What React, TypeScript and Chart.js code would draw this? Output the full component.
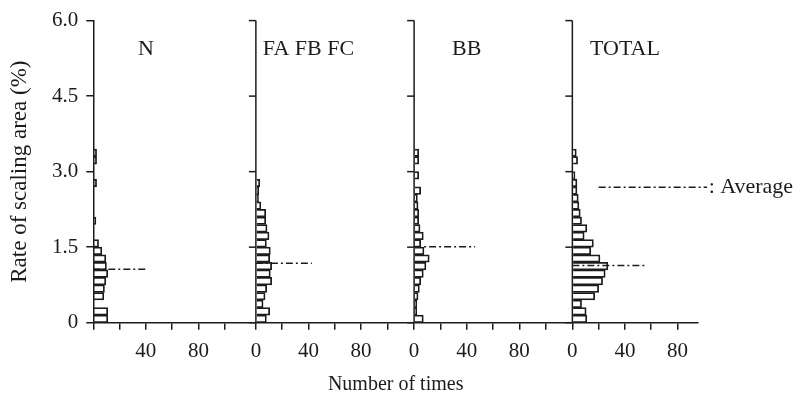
import React, { useEffect, useRef } from 'react';
import { Chart, registerables } from 'chart.js';

Chart.register(...registerables);

// Rate of scaling area (%) - histogram bin centres (bin width 0.15 %)
const RATE_BINS = [0.075, 0.225, 0.375, 0.525, 0.675, 0.825, 0.975, 1.125, 1.275, 1.425, 1.575, 1.725, 1.875, 2.025, 2.175, 2.325, 2.475, 2.625, 2.775, 2.925, 3.075, 3.225, 3.375];
// Number of times per bin, one array per panel
const N_COUNTS = [11, 11, 0, 8, 8.5, 9.5, 11, 10, 9.5, 6.5, 4, 0, 0, 2, 0, 0, 0, 0, 2.5, 0, 0, 2.5, 2.5];
const FA_FB_FC_COUNTS = [8, 10.5, 5.5, 7, 8.2, 12, 11, 12, 10.5, 11, 8, 10, 8.5, 7.5, 7.5, 3.8, 2, 2.2, 3, 0, 0, 0, 0];
const BB_COUNTS = [7, 2, 2, 3, 4, 5, 7, 9, 11.5, 7.5, 5, 7, 4.5, 3.5, 3.5, 3, 2.5, 5, 0, 3.5, 0, 3.5, 3.5];
const TOTAL_COUNTS = [11, 10.5, 7, 17, 20, 23, 25, 27, 21, 14, 16, 9, 11, 7, 6, 5, 4.5, 3.5, 3.5, 2, 0, 4, 3];

const PANEL_NAMES = ['N', 'FA FB FC', 'BB', 'TOTAL'];
const PANEL_COUNTS = [N_COUNTS, FA_FB_FC_COUNTS, BB_COUNTS, TOTAL_COUNTS];
const AVERAGE_RATES = [1.06, 1.18, 1.51, 1.135];
const AVERAGE_LINE_ENDS = [41, 42.6, 46.4, 55];
const PANEL_X_MAX = [123.7, 120.4, 120.4, 95.6];
const X_TICKS = [0, 20, 40, 60, 80, 100];
const X_LABELED = [[40, 80], [0, 40, 80], [0, 40, 80], [0, 40, 80]];
const Y_TICKS = [0, 1.5, 3.0, 4.5, 6.0];
const LEGEND_TEXT = ': Average';

const FONT_FAMILY = '"Liberation Serif", "Times New Roman", serif';
const INK = '#1c1c1c';
const DASH = [7, 3, 2, 3];

const panelDecor = {
  id: 'panelDecor',
  afterDraw(chart: any) {
    const ctx = chart.ctx as CanvasRenderingContext2D;
    const y = chart.scales.y;
    ctx.save();
    ctx.strokeStyle = INK;
    ctx.lineWidth = 1.5;
    for (let k = 1; k < 4; k++) {
      const xs = chart.scales['x' + k];
      const px = xs.getPixelForValue(0);
      ctx.beginPath();
      ctx.moveTo(px, y.getPixelForValue(6));
      ctx.lineTo(px, y.getPixelForValue(0));
      ctx.stroke();
      for (const t of Y_TICKS) {
        const py = y.getPixelForValue(t);
        ctx.beginPath();
        ctx.moveTo(px - 7, py);
        ctx.lineTo(px, py);
        ctx.stroke();
      }
    }
    ctx.fillStyle = INK;
    ctx.font = `22px ${FONT_FAMILY}`;
    ctx.textAlign = 'center';
    ctx.textBaseline = 'middle';
    for (let k = 0; k < 4; k++) {
      const xs = chart.scales['x' + k];
      ctx.fillText(PANEL_NAMES[k], xs.getPixelForValue(40), y.getPixelForValue(5.44));
    }
    // legend
    const x3 = chart.scales.x3;
    const ly = y.getPixelForValue(2.69);
    ctx.setLineDash(DASH);
    ctx.beginPath();
    ctx.moveTo(x3.getPixelForValue(20), ly);
    ctx.lineTo(x3.getPixelForValue(102.5), ly);
    ctx.stroke();
    ctx.setLineDash([]);
    ctx.textAlign = 'left';
    ctx.fillText(LEGEND_TEXT, x3.getPixelForValue(103.7), ly);
    ctx.restore();
  },
};

function buildConfig(): any {
  const datasets: any[] = [];
  const scales: any = {
    y: {
      type: 'linear',
      position: 'left',
      min: 0,
      max: 6,
      offset: false,
      afterBuildTicks: (s: any) => {
        s.ticks = Y_TICKS.map((v) => ({ value: v }));
      },
      ticks: {
        callback: (v: any) => (Number(v) === 0 ? '0' : Number(v).toFixed(1)),
        font: { family: FONT_FAMILY, size: 21 },
        color: INK,
        padding: 8,
      },
      grid: { offset: false, drawOnChartArea: false, drawTicks: true, tickLength: 7, color: INK, lineWidth: 1.5 },
      border: { display: true, color: INK, width: 1.5 },
      title: {
        display: true,
        text: 'Rate of scaling area (%)',
        font: { family: FONT_FAMILY, size: 23 },
        color: INK,
        padding: { top: 6, bottom: 0 },
      },
      afterFit: (s: any) => {
        s.width = 93.3;
      },
    },
    xt: {
      type: 'linear',
      position: 'bottom',
      weight: 10,
      ticks: { display: false },
      grid: { display: false, drawTicks: false },
      border: { display: false },
      title: {
        display: true,
        text: 'Number of times',
        font: { family: FONT_FAMILY, size: 20 },
        color: INK,
        padding: { top: 0, bottom: 9 },
      },
      afterFit: (s: any) => {
        s.height = 41.3;
      },
    },
  };
  for (let k = 0; k < 4; k++) {
    const id = 'x' + k;
    const max = PANEL_X_MAX[k];
    const labeled = X_LABELED[k];
    scales[id] = {
      type: 'linear',
      position: 'bottom',
      stack: 'panels',
      stackWeight: max,
      min: 0,
      max,
      offset: false,
      afterBuildTicks: (s: any) => {
        s.ticks = X_TICKS.filter((v) => v <= max).map((v) => ({ value: v }));
      },
      ticks: {
        callback: (v: any) => (labeled.includes(Number(v)) ? String(v) : ''),
        font: { family: FONT_FAMILY, size: 21 },
        color: INK,
        padding: 9,
        maxRotation: 0,
        autoSkip: false,
      },
      grid: { offset: false, drawOnChartArea: false, drawTicks: true, tickLength: 7, color: INK, lineWidth: 1.5 },
      border: { display: true, color: INK, width: 1.5 },
      afterFit: (s: any) => {
        s.height = 42;
      },
    };
    datasets.push({
      type: 'bar',
      label: PANEL_NAMES[k],
      data: RATE_BINS.map((r, i) => ({ y: r, x: PANEL_COUNTS[k][i] })).filter((d) => d.x > 0),
      xAxisID: id,
      yAxisID: 'y',
      backgroundColor: 'rgba(255,255,255,0)',
      borderColor: INK,
      borderWidth: 1.1,
      grouped: false,
      barPercentage: 1,
      categoryPercentage: 1,
      order: 2,
    });
    datasets.push({
      type: 'line',
      label: PANEL_NAMES[k] + ' average',
      data: [
        { x: 0, y: AVERAGE_RATES[k] },
        { x: AVERAGE_LINE_ENDS[k], y: AVERAGE_RATES[k] },
      ],
      xAxisID: id,
      yAxisID: 'y',
      borderColor: INK,
      borderWidth: 1.5,
      borderDash: DASH,
      pointRadius: 0,
      fill: false,
      order: 1,
    });
  }
  return {
    type: 'bar',
    data: { datasets },
    options: {
      indexAxis: 'y',
      animation: false,
      responsive: false,
      layout: { padding: { top: 20, left: 0, right: 99, bottom: 0 } },
      plugins: { legend: { display: false }, tooltip: { enabled: false } },
      scales,
    },
    plugins: [panelDecor],
  };
}

export default function App() {
  const ref = useRef<HTMLCanvasElement>(null);
  useEffect(() => {
    const canvas = ref.current;
    if (!canvas) return;
    const chart = new Chart(canvas, buildConfig());
    return () => chart.destroy();
  }, []);
  return (
    <div style={{ position: 'absolute', left: 0, top: 0, width: 797, height: 406, background: '#fff' }}>
      <canvas ref={ref} width={797} height={406} style={{ display: 'block', width: 797, height: 406 }} />
    </div>
  );
}
